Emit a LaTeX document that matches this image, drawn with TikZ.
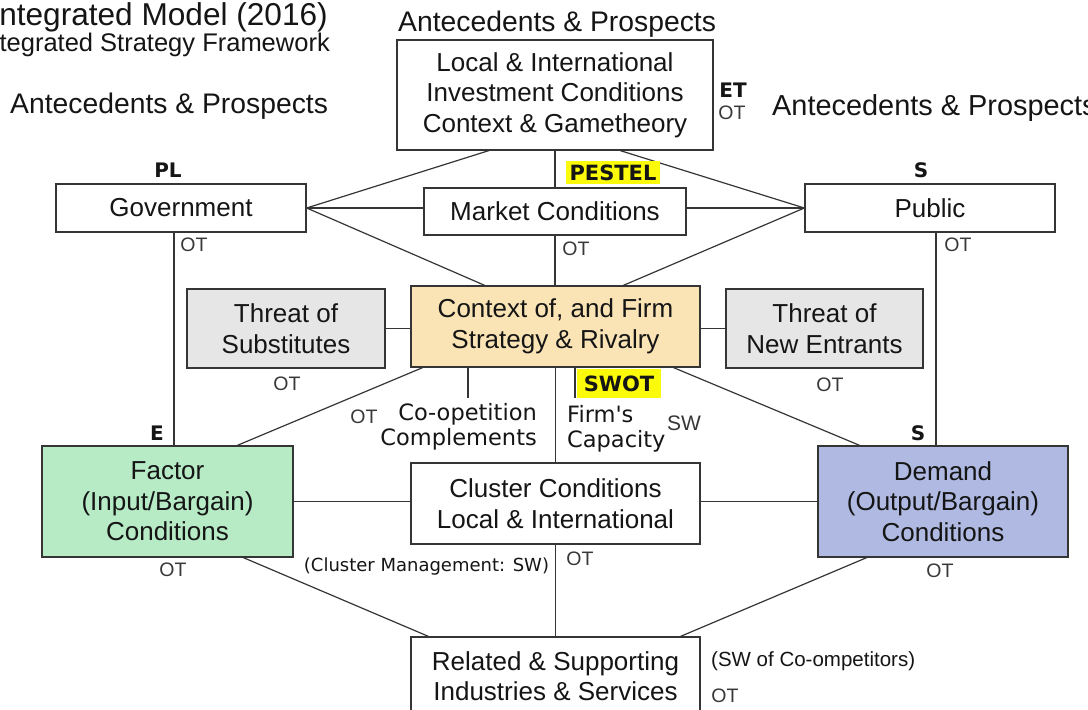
\documentclass[tikz,border=0pt]{standalone}
\usepackage{fontspec}
\setmainfont{Liberation Sans}
\newfontfamily\dvs{DejaVu Sans}
\usetikzlibrary{calc}
\definecolor{linec}{HTML}{353535}
\definecolor{textc}{HTML}{151515}
\definecolor{ctxfill}{HTML}{FAE4B6}
\definecolor{grayfill}{HTML}{E6E6E6}
\definecolor{facfill}{HTML}{B6EBC6}
\definecolor{demfill}{HTML}{AFB9E2}
\definecolor{hly}{HTML}{FAFA0A}
\begin{document}
\begin{tikzpicture}[x=1pt,y=-1pt,
  box/.style={draw=linec, line width=1.3pt, rectangle, inner sep=0pt, align=center, text=textc, font=\fontsize{26}{30.5}\selectfont},
  conn/.style={draw=linec, line width=1.2pt},
  ot/.style={inner sep=0pt, text=textc!85, font=\fontsize{19.5}{20}\selectfont},
  tag/.style={inner sep=0pt, text=textc, font=\dvs\bfseries\fontsize{20}{22}\selectfont},
  hl/.style={fill=hly, inner sep=0pt, text=textc, font=\dvs\bfseries\fontsize{21}{22}\selectfont},
  ante/.style={inner sep=0pt, text=textc, font=\fontsize{28.3}{30}\selectfont},
  mid/.style={inner sep=0pt, text=textc, font=\dvs\fontsize{22.5}{25}\selectfont},
  note/.style={inner sep=0pt, text=textc}
]
\useasboundingbox (0,0) rectangle (1088,710);
\clip (0,0) rectangle (1088,710);
\fill[white] (0,0) rectangle (1088,710);

% titles
\node[note, anchor=base east, font=\fontsize{31.6}{33}\selectfont] (t1) at (328,25) {Integrated Model (2016)};
\node[note, anchor=base east, font=\fontsize{25.5}{27}\selectfont] (t2) at (330,51) {Integrated Strategy Framework};
\node[ante, anchor=base west] (antL) at (10,113) {Antecedents \& Prospects};
\node[ante, anchor=base west] (antT) at (398,31) {Antecedents \& Prospects};
\node[ante, anchor=base west, font=\fontsize{28.9}{30}\selectfont] (antR) at (772,115) {Antecedents \& Prospects};

% boxes
\node[box, minimum width=316pt, minimum height=110pt] (top) at (555,95) {Local \& International\\Investment Conditions\\Context \& Gametheory};
\node[box, minimum width=262pt, minimum height=47pt] (mkt) at (555,211.5) {Market Conditions};
\node[box, minimum width=250pt, minimum height=48pt] (gov) at (181,208) {Government};
\node[box, minimum width=250pt, minimum height=48pt] (pub) at (930,208) {Public};
\node[box, fill=grayfill, minimum width=198pt, minimum height=79pt] (sub) at (286,328.5) {Threat of\\Substitutes};
\node[box, fill=ctxfill, minimum width=289pt, minimum height=81pt] (ctx) at (555.5,326.5) {Context of, and Firm\\Strategy \& Rivalry};
\node[box, fill=grayfill, minimum width=197pt, minimum height=79pt] (ent) at (824.5,328.5) {Threat of\\New Entrants};
\node[box, fill=facfill, minimum width=251pt, minimum height=111pt] (fac) at (167.5,501.5) {Factor\\(Input/Bargain)\\Conditions};
\node[box, minimum width=289pt, minimum height=81pt] (clu) at (555.5,503.5) {Cluster Conditions\\Local \& International};
\node[box, fill=demfill, minimum width=250pt, minimum height=111pt] (dem) at (943,501.5) {Demand\\(Output/Bargain)\\Conditions};
\node[box, minimum width=289pt, minimum height=78pt] (rel) at (555.5,676) {Related \& Supporting\\Industries \& Services};

% free ends
\coordinate (coop) at (468,398);
\coordinate (firm) at (575,398);

% connectors
\draw[conn] ($(top.south west)!0.291!(top.south east)$) -- (gov.east);
\draw[conn] ($(top.south west)!0.706!(top.south east)$) -- (pub.west);
\draw[conn] (top.south) -- (mkt.north);
\draw[conn] (gov.east) -- (gov.east -| mkt.west);
\draw[conn] (gov.east) -- ($(ctx.north west)!0.256!(ctx.north east)$);
\draw[conn] (pub.west) -- (pub.west -| mkt.east);
\draw[conn] (pub.west) -- ($(ctx.north west)!0.734!(ctx.north east)$);
\draw[conn] (mkt.south) -- (mkt.south |- ctx.north);
\draw[conn] (sub.east) -- (sub.east -| ctx.west);
\draw[conn] (ent.west) -- (ent.west -| ctx.east);
\coordinate (gv) at ($(gov.south west)!0.472!(gov.south east)$);
\draw[conn] (gv) -- (gv |- fac.north);
\coordinate (pv) at ($(pub.south west)!0.524!(pub.south east)$);
\draw[conn] (pv) -- (pv |- dem.north);
\draw[conn] ($(ctx.south west)!0.042!(ctx.south east)$) -- ($(fac.north west)!0.777!(fac.north east)$);
\draw[conn] ($(ctx.south west)!0.907!(ctx.south east)$) -- ($(dem.north west)!0.168!(dem.north east)$);
\draw[conn] (ctx.south) -- (ctx.south |- clu.north);
\draw[conn] (coop |- ctx.south) -- (coop);
\draw[conn] (firm |- ctx.south) -- (firm);
\draw[conn] (fac.east) -- (fac.east -| clu.west);
\draw[conn] (dem.west) -- (dem.west -| clu.east);
\draw[conn] (clu.south) -- (clu.south |- rel.north);
\draw[conn] ($(fac.south west)!0.801!(fac.south east)$) -- ($(rel.north west)!0.062!(rel.north east)$);
\draw[conn] ($(dem.south west)!0.196!(dem.south east)$) -- ($(rel.north west)!0.931!(rel.north east)$);

% highlights
\node[hl, minimum width=94pt, minimum height=23pt] (pestel) at (613,172.5) {PESTEL};
\node[hl, minimum width=84pt, minimum height=29pt] (swot) at (619,383.5) {SWOT};

% tags
\node[tag] (et) at (733,90) {ET};
\node[ot] (otet) at (732,113) {OT};
\node[tag] (pl) at (168,170) {PL};
\node[tag] (e) at (157,433) {E};
\node[tag] (s1) at (921,170) {S};
\node[tag] (s2) at (918,433) {S};

% OT labels
\node[ot] (otgov) at (194,245) {OT};
\node[ot] (otpub) at (958,245) {OT};
\node[ot] (otmkt) at (576,249) {OT};
\node[ot] (otsub) at (287,384) {OT};
\node[ot] (otent) at (830,385) {OT};
\node[ot] (otcoop) at (364,417) {OT};
\node[ot] (otfac) at (173,570) {OT};
\node[ot] (otdem) at (940,571) {OT};
\node[ot] (otclu) at (580,559) {OT};
\node[ot] (otrel) at (725,696) {OT};

% middle labels
\node[mid, anchor=base east] (coop1) at (537,420) {Co-opetition};
\node[mid, anchor=base east] (coop2) at (537,445) {Complements};
\node[mid, anchor=base west] (firm1) at (567,422) {Firm's};
\node[mid, anchor=base west] (firm2) at (567,447) {Capacity};
\node[ot, font=\fontsize{21}{22}\selectfont] (sw) at (684,423) {SW};

\node[note, font=\dvs\fontsize{18}{20}\selectfont] (clm) at (426.5,567) {(Cluster Management: SW)};
\node[note, anchor=west, font=\fontsize{20.5}{22}\selectfont] (swco) at (711,661) {(SW of Co-ompetitors)};
\end{tikzpicture}
\end{document}
